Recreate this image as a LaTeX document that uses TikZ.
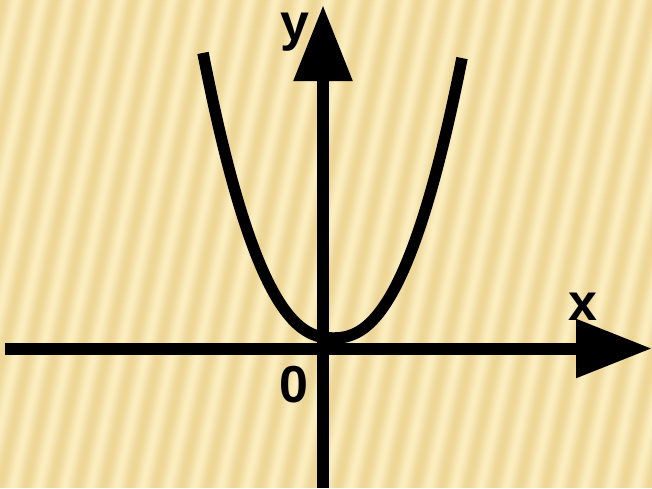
\documentclass[tikz,border=0pt]{standalone}
\usepackage{fontspec}
\setmainfont{Liberation Sans}
\usetikzlibrary{arrows.meta}
\definecolor{bglight}{RGB}{251,237,190}
\definecolor{bgdark}{RGB}{237,214,150}
\begin{document}
\begin{tikzpicture}[x=1pt,y=-1pt,
  axis/.style={line width=12pt, -{Triangle[length=76pt,width=56pt]}},
  graph/.style={line width=11.5pt},
  lbl/.style={font=\fontsize{52}{52}\selectfont\bfseries, inner sep=0pt, anchor=base}]
\useasboundingbox (0,0) rectangle (652,488);
\begin{scope}
  \clip (0,0) rectangle (652,488);
  \fill[bglight] (0,0) rectangle (652,488);
  \foreach \j in {-60,...,330} {
    \pgfmathsetmacro\m{50+50*cos(mod(27.6923*\j,360))}
    \draw[bgdark!\m!bglight, line width=2.3pt] (\j*2,488) -- ++(107,-488);
  }
\end{scope}
% curve
\draw[graph] plot[domain=-130:129, samples=160] ({333+\x},{338-285*pow(abs(\x)/130+0.0001,2.34)});
% axes
\coordinate (xs) at (5,348.5);
\coordinate (xe) at (652,348.5);
\coordinate (ys) at (323,488);
\coordinate (ye) at (323,5);
\draw[axis] (xs) -- (xe);
\draw[axis] (ys) -- (ye);
% labels
\node[lbl] (ylab) at (294.5,40) {y};
\node[lbl] (xlab) at (582.5,320) {x};
\node[lbl] (zero) at (294,402) {0};
\end{tikzpicture}
\end{document}
